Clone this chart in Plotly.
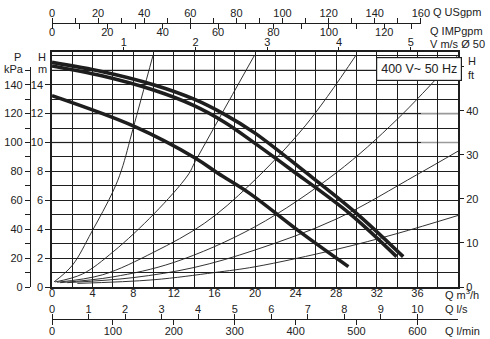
import plotly.graph_objects as go

W, H = 490, 339

# ---------------- data ----------------
# pump curves, Q in m3/h, H in m
qA = [0, 5, 10, 14, 17, 20, 24.7, 30, 34.6]
hA = [15.55, 14.9, 14.0, 13.0, 11.95, 10.65, 8.1, 5.1, 2.1]
qB = [0, 5, 10, 14, 17, 20, 23.6, 29.3, 33.95]
hB = [15.3, 14.6, 13.63, 12.55, 11.4, 9.94, 8.1, 5.1, 2.1]
qC = [0, 8.16, 14.1, 16.35, 19.47, 24.4, 29.2]
hC = [13.24, 11.1, 8.93, 7.87, 6.48, 3.83, 1.41]

# thin system curves
qT1 = [0.2, 2, 3.9, 6.0, 6.85, 8.0, 9.96]
hT1 = [0.35, 1.5, 3.8, 6.6, 8.1, 11.0, 16.05]
qT2 = [0.3, 3, 6.03, 10.1, 13.4, 14.1, 19.96]
hT2 = [0.35, 0.9, 2.44, 5.1, 7.75, 8.67, 16.05]
qT3 = [0.5, 5, 10, 15, 19.47, 25, 29.96]
hT3 = [0.33, 0.85, 2.4, 4.4, 7.06, 11.2, 16.05]
qT4 = [0.8, 6, 12, 20, 28, 34, 40]
hT4 = [0.3, 0.7, 1.7, 4.17, 7.9, 11.6, 16.05]
qT5 = [1.5, 8, 14, 20, 28, 35.9, 40]
hT5 = [0.3, 0.65, 1.35, 2.56, 4.7, 7.75, 9.4]
qT6 = [2.5, 10, 16, 20, 28, 34, 40]
hT6 = [0.25, 0.5, 1.0, 1.4, 2.6, 3.7, 4.95]

# axis tick values
q_ticks = list(range(0, 37, 4))
h_ticks = list(range(0, 15, 2))
kpa_ticks = list(range(0, 151, 10))
ft_ticks = [0, 10, 20, 30, 40, 50]
usgpm_ticks = list(range(0, 161, 10))
impgpm_ticks = list(range(0, 131, 10))
vel_ticks = [1, 2, 3, 4, 5]
ls_ticks = list(range(0, 11))
lmin_ticks = list(range(0, 601, 100))
grey_h_lines = [10, 12, 15]

# ---------------- geometry helpers ----------------
def xf(px):
    return px / W

def yf(py):
    return 1 - py / H

X0, X1 = 52, 458
Y0, Y1 = 287, 52
PX_PER_Q = (X1 - X0) / 40.0
PX_PER_M = 14.45
Q_MAX = 40.0
H_MAX = (Y0 - Y1) / PX_PER_M
X_US_END = 421
Y_KPA_TOP = 67

FONT = "Liberation Sans, Arial, sans-serif"
INK = "#1e1e1e"

fig = go.Figure()

for q, h in [(qT1, hT1), (qT2, hT2), (qT3, hT3), (qT4, hT4), (qT5, hT5), (qT6, hT6)]:
    fig.add_trace(go.Scatter(x=q, y=h, mode="lines", line=dict(color="#333", width=1, shape="spline", smoothing=1.0),
                             showlegend=False, hoverinfo="skip"))
for q, h in [(qA, hA), (qB, hB), (qC, hC)]:
    fig.add_trace(go.Scatter(x=q, y=h, mode="lines", line=dict(color=INK, width=3.6, shape="spline", smoothing=1.0),
                             showlegend=False, hoverinfo="skip"))

# empty carriers for the extra axes
for xa, ya in [("x", "y2"), ("x", "y3"), ("x2", "y"), ("x3", "y"), ("x4", "y"), ("x5", "y"), ("x6", "y")]:
    fig.add_trace(go.Scatter(x=[], y=[], xaxis=xa, yaxis=ya, showlegend=False, hoverinfo="skip"))

tf = dict(family=FONT, size=11, color="#222")

def lab(vals, every):
    return [str(v) if v % every == 0 else "" for v in vals]

common = dict(automargin=False, zeroline=False, type="linear", tickfont=tf, tickcolor=INK)
us_range = (X_US_END - X0) / PX_PER_Q * 4.40287
imp_range = (X_US_END - X0) / PX_PER_Q * 3.66615

fig.update_layout(
    width=W, height=H, margin=dict(l=0, r=0, t=0, b=0, autoexpand=False),
    paper_bgcolor="white", plot_bgcolor="rgba(0,0,0,0)",
    font=tf,
    xaxis=dict(domain=[xf(X0), xf(X1)], range=[0, Q_MAX], anchor="y",
               tickvals=q_ticks, ticktext=[str(v) for v in q_ticks], ticks="", ticklabelstandoff=-5,
               showgrid=True, gridcolor=INK, gridwidth=1.2,
               minor=dict(dtick=2, tick0=0, showgrid=True, gridcolor=INK, gridwidth=1.2, ticks=""),
               showline=True, linecolor=INK, linewidth=1.5, mirror=True, **common),
    yaxis=dict(domain=[yf(Y0), yf(Y1)], range=[0, H_MAX], anchor="x",
               tickvals=h_ticks, ticktext=[str(v) for v in h_ticks], ticks="outside", ticklen=5,
               showgrid=True, gridcolor=INK, gridwidth=1.2,
               minor=dict(dtick=1, tick0=0, showgrid=True, gridcolor=INK, gridwidth=1.2, ticks=""),
               showline=True, linecolor=INK, linewidth=1.5, mirror=True, **common),
    yaxis2=dict(domain=[yf(Y0), yf(Y_KPA_TOP)], range=[0, (Y0 - Y_KPA_TOP) / PX_PER_M * 10],
                anchor="free", position=xf(30),
                side="left", tickvals=kpa_ticks, ticktext=lab(kpa_ticks, 20)[:-1] + [""],
                ticks="outside", ticklen=5, showgrid=False,
                showline=True, linecolor=INK, linewidth=1.2, **common),
    yaxis3=dict(overlaying="y", side="right", anchor="x", range=[0, H_MAX * 3.28084],
                tickvals=ft_ticks, ticktext=["0", "10", "20", "30", "40", ""], ticks="outside", ticklen=5,
                showgrid=False, showline=False, **common),
    xaxis2=dict(domain=[xf(X0), xf(X_US_END)], range=[0, us_range], anchor="free", position=yf(23), side="top",
                tickvals=usgpm_ticks, ticktext=lab(usgpm_ticks, 20), ticks="outside", ticklen=5,
                ticklabelstandoff=-3,
                showgrid=False, showline=True, linecolor=INK, linewidth=1.2, **common),
    xaxis3=dict(domain=[xf(X0), xf(X_US_END)], range=[0, imp_range], anchor="free", position=yf(23), side="bottom",
                tickvals=impgpm_ticks, ticktext=lab(impgpm_ticks, 20), ticks="outside", ticklen=5,
                ticklabelstandoff=-6,
                showgrid=False, showline=False, **common),
    xaxis4=dict(overlaying="x", anchor="y", side="top", range=[0, Q_MAX / 7.0686],
                tickvals=vel_ticks, ticktext=[str(v) for v in vel_ticks], ticks="outside", ticklen=4,
                ticklabelstandoff=-3,
                showgrid=False, showline=False, **common),
    xaxis5=dict(overlaying="x", range=[0, Q_MAX / 3.6], anchor="free", position=yf(319), side="top",
                tickvals=ls_ticks, ticktext=[str(v) for v in ls_ticks], ticks="outside", ticklen=5,
                ticklabelstandoff=-3,
                showgrid=False, showline=True, linecolor=INK, linewidth=1.2, **common),
    xaxis6=dict(overlaying="x", range=[0, Q_MAX / 0.06], anchor="free", position=yf(319), side="bottom",
                tickvals=lmin_ticks, ticktext=[str(v) for v in lmin_ticks], ticks="outside",
                ticklen=5, ticklabelstandoff=-3, showgrid=False, showline=False, **common),
)

for g in grey_h_lines:
    fig.add_shape(type="line", xref="x", yref="y", x0=0, x1=Q_MAX, y0=g, y1=g, layer="between",
                  line=dict(color="#9a9a9a", width=1.6))

ann = [
    ("P", 17, 57, "center"), ("kPa", 14, 69, "center"),
    ("H", 42, 57, "center"), ("m", 42, 69, "center"),
    ("H", 466, 61, "left"), ("ft", 466, 75, "left"),
    ("Q USgpm", 431, 12, "left"), ("Q IMPgpm", 428, 31, "left"), ("V m/s Ø 50", 428, 44, "left"),
    ("Q m<sup>3</sup>/h", 443, 294, "left"), ("Q l/s", 443, 309, "left"), ("Q l/min", 443, 331, "left"),
]
for t, x, y, al in ann:
    fig.add_annotation(text=t, x=xf(x), y=yf(y), xref="paper", yref="paper", showarrow=False,
                       xanchor=al, yanchor="middle", font=dict(family=FONT, size=11, color="#222"))

fig.add_annotation(text="400 V~ 50 Hz", x=xf(419), y=yf(69), xref="paper", yref="paper", showarrow=False,
                   xanchor="center", yanchor="middle", font=dict(family=FONT, size=12.5, color="#222"),
                   bgcolor="white", bordercolor=INK, borderwidth=1.2, borderpad=4)

fig.write_html("out.html", config={"displayModeBar": False},
               post_script="document.body.style.margin='0px';document.body.style.overflow='hidden';")
